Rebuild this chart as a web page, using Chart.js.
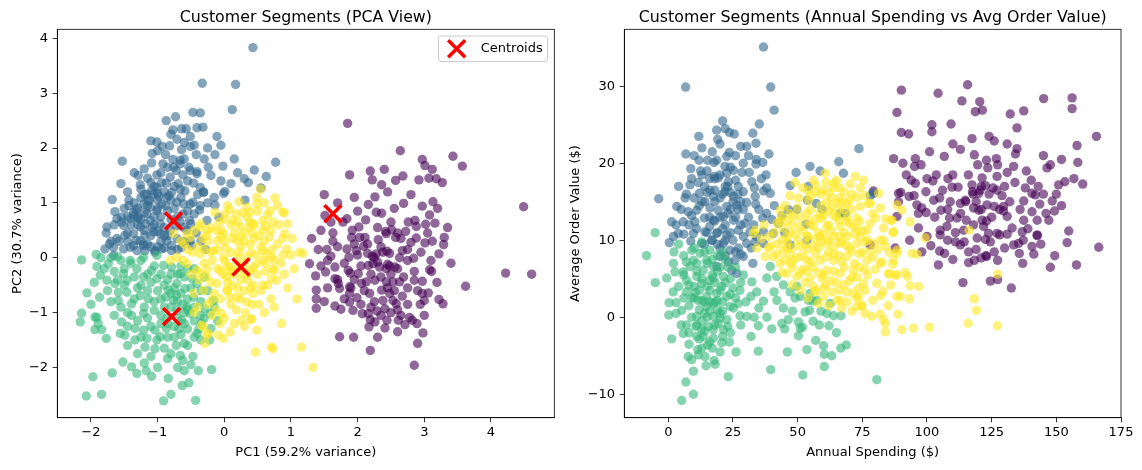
<!DOCTYPE html>
<html><head><meta charset="utf-8">
<script src="https://cdn.jsdelivr.net/npm/chart.js@4.4.1/dist/chart.umd.min.js"></script>
<style>
html,body{margin:0;padding:0;background:#fff;}
#wrap{position:relative;width:1142px;height:470px;overflow:hidden;}
canvas{position:absolute;left:0;top:0;}
</style></head><body>
<div id="wrap"><canvas id="c1" width="1142" height="470"></canvas><canvas id="c2" width="1142" height="470"></canvas></div>
<script>
// ---------- DATA ----------
const pcaXTicks = [-2,-1,0,1,2,3,4];
const pcaYTicks = [-2,-1,0,1,2,3,4];
const spendXTicks = [0,25,50,75,100,125,150,175];
const spendYTicks = [-10,0,10,20,30];

const pcaCentroids = [[-0.76,0.67],[-0.79,-1.07],[0.25,-0.17],[1.63,0.80]];

const pcaPurple = [[1.85,2.45],[2.64,1.95],[2.97,1.79],[3.01,1.68],[3.12,1.61],[3.43,1.85],[3.57,1.67],[1.88,1.51],[2.19,1.58],[2.40,1.61],[2.22,1.42],[2.36,1.33],[2.57,1.41],[2.68,1.49],[2.92,1.42],[3.07,1.45],[3.18,1.44],[3.27,1.37],[1.50,1.15],[2.26,1.11],[2.16,0.97],[2.69,0.99],[2.97,0.94],[3.13,1.02],[4.49,0.93],[1.51,0.77],[1.78,0.65],[1.84,0.71],[2.12,0.69],[2.28,0.83],[2.36,0.81],[2.76,0.65],[2.86,0.68],[2.88,0.57],[3.02,0.61],[3.08,0.78],[3.16,0.63],[1.63,0.45],[1.92,0.50],[2.02,0.56],[2.42,0.48],[2.51,0.51],[2.60,0.45],[2.72,0.48],[1.31,0.35],[3.30,0.37],[1.63,0.30],[1.91,0.37],[2.03,0.37],[2.11,0.37],[2.31,0.33],[2.43,0.44],[2.57,0.37],[2.80,0.28],[2.88,0.36],[3.01,0.27],[3.12,0.30],[3.29,0.24],[3.22,0.07],[1.41,0.15],[1.54,0.15],[1.60,0.03],[1.84,0.16],[1.87,0.01],[1.98,0.13],[2.09,0.21],[2.15,0.08],[2.28,0.07],[2.38,0.10],[2.48,0.08],[2.67,0.13],[2.63,0.00],[2.84,-0.01],[1.28,-0.11],[1.66,-0.17],[1.52,-0.26],[1.37,-0.33],[1.86,-0.23],[1.89,-0.28],[2.01,-0.29],[2.16,-0.14],[2.23,-0.11],[2.33,-0.17],[2.43,-0.20],[2.56,-0.17],[3.08,-0.22],[3.11,-0.25],[1.66,-0.38],[1.71,-0.47],[1.73,-0.56],[1.88,-0.53],[2.06,-0.47],[2.13,-0.44],[2.26,-0.41],[2.43,-0.44],[2.53,-0.44],[2.63,-0.44],[2.69,-0.35],[2.85,-0.41],[2.97,-0.43],[3.19,-0.45],[3.62,-0.52],[4.22,-0.28],[4.61,-0.30],[1.38,-0.59],[1.38,-0.75],[1.38,-0.92],[1.66,-0.88],[1.75,-0.94],[1.88,-0.65],[1.88,-0.81],[1.99,-0.73],[1.93,-0.96],[2.18,-0.65],[2.36,-0.59],[2.38,-0.78],[2.48,-0.65],[2.53,-0.78],[2.58,-0.84],[2.67,-0.70],[2.97,-0.65],[3.06,-0.64],[3.00,-0.78],[2.94,-0.85],[3.22,-0.76],[3.28,-0.84],[2.07,-1.02],[2.16,-1.02],[2.29,-0.97],[2.41,-0.93],[2.19,-1.13],[2.26,-1.17],[2.17,-1.26],[2.41,-1.28],[2.44,-1.14],[2.61,-1.14],[2.65,-1.05],[2.71,-1.22],[2.78,-1.09],[2.82,-1.14],[2.89,-1.20],[2.98,-1.37],[2.90,-1.56],[1.73,-1.44],[1.94,-1.45],[2.19,-1.69],[2.85,-1.96],[2.22,0.03],[2.25,0.00],[2.45,-0.12],[2.48,-0.15],[2.30,-0.08],[2.44,0.12],[1.70,-0.40],[1.90,-0.55],[2.20,-0.30],[2.00,0.05],[2.50,-0.30],[2.35,0.20],[2.10,-0.60],[2.60,-0.20],[1.95,0.25],[2.75,0.15],[3.10,-0.05],[1.55,-0.05],[2.25,-0.80],[2.45,-0.55],[1.45,0.5],[1.6,0.65],[1.7,0.2],[1.8,-0.1],[1.95,-0.4],[2.05,-0.15],[2.15,0.25],[2.3,0.55],[2.5,0.65],[2.65,0.35],[2.75,-0.05],[2.85,-0.25],[2.95,0.1],[3.05,0.45],[2.9,-0.6],[2.75,-0.55],[2.55,-0.6],[2.35,-0.35],[2.2,-0.9],[2.05,-0.85],[1.8,-0.75],[1.55,-0.55],[1.5,-0.8],[2.6,-0.95],[2.75,-0.85],[2.5,-1.0],[2.35,-1.05],[1.45,-0.15],[2.0,0.85],[2.55,0.9],[2.8,1.15],[3.2,0.9],[3.35,0.55],[3.4,-0.1],[1.7,1.0],[2.45,1.2],[1.95,1.1],[2.6,-1.35],[2.3,-1.45],[3.0,-1.05]];

const pcaBlue = [[0.43,3.83],[-0.33,3.18],[0.17,3.16],[0.12,2.70],[-0.47,2.65],[-0.36,2.64],[-0.87,2.50],[-0.73,2.57],[-0.77,2.33],[-0.64,2.35],[-0.57,2.35],[-0.41,2.37],[-0.32,2.38],[-0.51,2.21],[-0.11,2.21],[-0.71,2.16],[-1.10,2.13],[-1.01,2.11],[-0.93,2.03],[-0.82,2.04],[-0.64,1.97],[-0.51,2.03],[-0.42,1.88],[-0.14,1.88],[-1.08,1.90],[-0.88,1.88],[-0.77,1.79],[-0.66,1.78],[-1.53,1.76],[0.77,1.74],[-1.09,1.73],[-0.92,1.71],[-0.02,1.67],[-0.53,1.65],[-0.24,1.65],[-1.20,1.62],[-0.72,1.59],[-0.41,1.57],[0.63,1.48],[-1.29,1.50],[-1.01,1.51],[-0.62,1.51],[0.30,1.44],[0.36,1.37],[-0.87,1.36],[-0.46,1.36],[-1.55,1.35],[-1.26,1.33],[-1.10,1.37],[-0.36,1.28],[0.55,1.27],[-0.66,1.25],[-0.31,1.20],[0.01,1.21],[-0.01,1.17],[-1.00,1.17],[-1.68,1.06],[-1.43,1.05],[0.31,1.05],[-1.25,1.10],[-1.16,1.16],[-0.83,1.13],[-0.47,1.01],[-0.14,0.96],[-1.64,0.84],[-1.43,0.95],[-1.32,0.87],[-0.37,0.87],[-0.08,0.74],[-1.76,0.56],[-1.54,0.74],[-1.36,0.76],[-0.52,0.68],[-1.77,0.45],[-1.79,0.16],[-1.66,0.19],[-1.51,0.16],[-1.41,0.19],[-1.31,0.13],[-1.19,0.13],[-1.21,0.25],[-1.04,0.13],[-1.49,0.41],[-1.36,0.44],[-1.19,0.41],[-1.51,0.59],[-1.41,0.71],[-1.29,0.74],[-1.11,0.68],[-0.96,0.62],[-0.81,0.50],[-0.71,0.35],[-0.79,0.22],[-0.86,0.31],[-0.96,0.44],[-1.06,0.47],[-1.14,1.04],[-1.11,0.92],[-1.06,1.16],[-1.01,1.28],[-1.09,1.22],[-1.21,0.98],[-1.16,0.80],[-1.01,0.86],[-0.94,0.98],[-0.86,1.10],[-0.79,1.19],[-0.71,1.01],[-0.61,0.98],[-0.51,0.98],[-0.36,0.95],[-0.26,0.68],[-0.66,0.65],[-0.56,0.50],[-0.51,0.31],[-0.69,1.35],[-0.59,1.22],[-0.81,1.47],[-0.94,1.37],[-0.51,1.59],[-0.41,1.53],[-0.76,1.65],[-0.66,1.71],[-0.31,1.19],[-1.36,0.83],[-1.54,0.65],[-1.61,0.71],[-1.26,0.56],[-1.26,0.31],[-1.61,0.35],[-0.79,0.13],[-0.94,0.16],[-1.66,0.04],[-1.36,0.22],[-1.21,0.22],[-1.04,0.10],[-0.64,0.19],[-0.49,0.22],[-1.00,0.90],[-0.95,0.75],[-1.05,0.60],[-0.90,0.55],[-1.15,0.95],[-0.85,0.85],[-1.00,1.05],[-0.90,1.20],[-1.20,0.50],[-1.10,0.40],[-0.95,0.30],[-0.85,0.40],[-1.25,0.70],[-1.00,0.20],[-1.15,0.25],[-0.75,0.90],[-0.70,0.75],[-0.65,1.10],[-0.55,0.85],[-1.30,0.90],[-1.40,0.60],[-1.45,0.45],[-0.60,0.55],[-0.45,0.80],[-1.05,1.30],[-1.20,1.15],[-0.80,1.05],[-1.7,0.3],[-1.58,0.3],[-1.45,0.3],[-1.32,0.32],[-1.1,0.2],[-0.9,0.18],[-0.7,0.15],[-0.6,0.3],[-0.42,0.45],[-0.35,0.3],[-0.28,0.15],[-0.9,0.4],[-1.0,0.48],[-1.08,0.55],[-1.18,0.62],[-1.3,0.6],[-1.45,0.75],[-1.35,1.0],[-1.25,1.25],[-1.15,1.45],[-1.35,1.55],[-1.45,1.2],[-0.95,1.55],[-0.85,1.65],[-0.6,1.8],[-0.3,1.8],[-0.2,1.5],[-0.05,1.4],[0.1,1.35],[0.2,1.55],[-0.15,1.1],[-0.25,1.0],[-0.4,1.15],[-0.55,1.4],[-0.75,1.3],[-0.88,0.95],[-0.8,0.7],[-0.72,0.58],[-0.62,0.8],[-0.5,0.62],[-1.05,0.75],[-1.2,0.82],[-1.3,0.72],[-1.12,1.05],[-0.98,1.12],[-1.5,0.9],[-1.65,0.6],[-1.72,0.25],[-0.45,2.05],[-0.25,2.0],[-0.8,2.25],[-0.6,2.1],[-1.0,1.95],[-0.05,2.05],[0.45,1.6],[0.15,1.8]];

const pcaGreen = [[-2.14,-0.04],[-1.92,0.06],[-1.91,-0.16],[-1.74,-0.11],[-1.86,-0.32],[-1.76,-0.41],[-1.64,-0.47],[-1.51,-0.29],[-1.41,-0.05],[-1.46,-0.41],[-1.31,-0.20],[-1.21,-0.35],[-1.09,-0.23],[-1.01,-0.38],[-2.06,-0.64],[-1.87,-0.72],[-1.59,-0.63],[-1.59,-0.78],[-1.46,-0.63],[-1.39,-0.84],[-1.26,-0.69],[-1.14,-0.75],[-1.39,-1.05],[-1.21,-1.02],[-1.05,-0.96],[-2.14,-1.01],[-2.16,-1.17],[-1.91,-1.09],[-1.89,-1.20],[-1.94,-1.31],[-1.84,-1.31],[-1.77,-1.47],[-1.54,-1.17],[-1.56,-1.38],[-1.49,-1.41],[-1.34,-1.29],[-1.34,-1.50],[-1.21,-1.32],[-1.16,-1.47],[-1.04,-1.32],[-1.01,-1.50],[-1.19,-1.63],[-1.04,-1.66],[-0.96,-1.44],[-0.87,-1.29],[-0.86,-1.11],[-0.72,-1.60],[-0.60,-1.56],[-0.66,-1.78],[-0.62,-1.87],[-0.47,-1.80],[-0.85,-1.84],[-1.52,-1.90],[-1.39,-1.99],[-1.31,-2.11],[-1.20,-1.92],[-1.17,-2.06],[-1.09,-2.16],[-1.68,-2.10],[-1.97,-2.17],[-2.07,-2.52],[-1.84,-2.49],[-0.84,-2.20],[-0.60,-2.06],[-0.39,-2.06],[-0.19,-2.04],[-0.63,-2.33],[-0.53,-2.28],[-0.91,-2.61],[-0.80,-2.49],[-0.43,-2.60],[-0.56,-0.90],[-0.71,-0.96],[-0.51,-1.02],[-0.64,-1.14],[-0.76,-0.78],[-0.84,-0.59],[-0.71,-0.47],[-0.59,-0.56],[-0.46,-0.72],[-0.41,-0.47],[-0.66,-0.29],[-0.79,-0.17],[-0.91,-0.14],[-1.01,0.04],[-1.21,0.01],[-0.29,-0.93],[-0.21,-1.02],[-0.34,-1.20],[-0.20,-1.29],[-0.16,-0.78],[-0.36,-1.05],[-0.41,-1.38],[-1.94,-1.08],[-0.90,-0.50],[-0.80,-0.65],[-0.70,-0.80],[-0.60,-1.20],[-0.90,-0.90],[-1.00,-0.60],[-0.60,-0.35],[-0.50,-0.55],[-0.75,-1.25],[-0.65,-1.40],[-1.10,-0.45],[-1.30,-0.55],[-1.50,-0.20],[-1.60,-0.40],[-1.70,0.00],[-1.40,-0.10],[-0.55,-0.95],[-0.45,-0.20],[-0.35,-0.60],[-1.20,-0.90],[-0.85,-1.20],[-0.70,-0.30],[-1.8,-0.2],[-1.65,-0.25],[-1.55,-0.05],[-1.35,-0.35],[-1.25,-0.5],[-1.15,-0.3],[-1.05,-0.15],[-0.95,-0.3],[-0.85,-0.4],[-0.75,-0.55],[-0.65,-0.65],[-0.55,-0.75],[-0.45,-0.9],[-0.35,-0.8],[-0.25,-0.6],[-0.3,-1.1],[-0.45,-1.15],[-0.55,-1.3],[-0.7,-1.1],[-0.8,-0.9],[-0.95,-0.75],[-1.05,-0.8],[-1.15,-1.1],[-1.3,-1.15],[-1.45,-1.0],[-1.55,-0.9],[-1.7,-0.8],[-1.75,-0.6],[-1.95,-0.45],[-2.0,-0.85],[-1.65,-1.05],[-1.45,-1.25],[-1.25,-1.45],[-1.1,-1.25],[-0.95,-1.05],[-0.85,-1.45],[-0.75,-1.45],[-0.55,-1.6],[-0.45,-1.45],[-0.35,-1.5],[-0.9,-1.65],[-0.8,-1.75],[-1.1,-1.8],[-1.3,-1.75],[-1.45,-1.6],[-0.7,-2.0],[-0.5,-1.95],[-1.0,-2.0],[-0.65,-0.15],[-0.55,-0.2],[-0.48,-0.38],[-0.8,-0.3],[-1.25,-0.05],[-1.6,0.02],[-1.85,0.0],[-0.6,-1.0],[-0.68,-1.3],[-0.38,-1.3],[-0.3,-0.35],[-0.15,-0.9],[-0.1,-1.15],[-0.22,-1.5],[-0.95,-1.2],[-1.35,-0.75],[-1.15,-0.6],[-1.5,-0.5],[-0.72,-0.68],[-0.88,-0.72],[-0.62,-0.85]];

const pcaYellow = [[0.54,1.25],[0.76,1.09],[0.49,1.10],[0.90,0.82],[0.69,0.86],[0.34,0.92],[-0.14,0.83],[0.01,0.80],[0.13,0.68],[0.34,0.74],[0.43,0.62],[0.58,0.68],[0.73,0.65],[0.91,0.44],[-0.36,0.62],[-0.26,0.50],[-0.56,0.44],[-0.76,0.44],[0.49,0.98],[0.39,0.83],[0.88,0.83],[0.94,0.16],[1.13,0.10],[0.88,0.35],[0.58,0.50],[0.24,0.56],[-0.36,0.56],[-0.51,0.37],[-0.26,0.41],[-0.01,0.44],[0.19,0.31],[0.39,0.25],[0.58,0.13],[0.71,0.01],[0.58,-0.05],[0.73,-0.20],[0.71,-0.38],[0.58,-0.50],[0.43,-0.65],[0.34,-0.81],[0.19,-0.72],[0.04,-0.59],[-0.11,-0.47],[-0.26,-0.35],[-0.41,-0.23],[-0.56,-0.11],[-0.71,0.01],[-0.81,-0.05],[-0.36,0.07],[-0.16,0.13],[-0.01,0.01],[0.09,-0.17],[-0.06,-0.23],[0.04,-0.35],[0.39,-0.23],[0.49,-0.11],[0.34,0.01],[-0.11,0.31],[1.09,-0.75],[0.86,-1.20],[0.49,-1.32],[0.41,-1.11],[0.26,-1.14],[0.09,-1.35],[-0.01,-1.47],[-0.06,-1.20],[-0.04,-1.02],[-0.19,-0.78],[-0.31,-0.59],[-0.46,-0.65],[-0.34,-1.23],[-0.24,-1.38],[-0.29,-1.56],[0.71,-1.63],[1.16,-1.63],[0.64,0.07],[0.75,-0.04],[0.75,-0.23],[0.79,-0.41],[0.43,-0.50],[0.24,-0.75],[0.09,-0.72],[-0.06,-0.75],[0.40,-1.13],[0.47,-1.72],[0.73,-1.66],[-0.09,-1.41],[-0.26,-1.41],[-0.31,-1.26],[1.18,0.08],[1.33,-2.00],[0.00,0.30],[0.10,0.10],[0.20,0.00],[0.30,-0.10],[0.15,-0.30],[0.05,-0.45],[-0.10,-0.20],[-0.20,0.10],[0.25,0.20],[0.40,0.10],[0.50,-0.30],[0.35,-0.40],[0.20,-0.55],[-0.05,0.50],[0.10,0.60],[0.30,0.45],[0.45,0.60],[-0.20,-0.45],[-0.30,-0.10],[0.00,-0.05],[0.60,0.30],[0.55,-0.60],[0.10,-0.85],[-0.15,-0.65],[0.28,-0.25],[0.12,0.35],[-0.10,0.15],[0.05,-0.60],[0.40,-0.55],[0.62,-0.10],[-0.25,0.30],[0.18,0.80],[0.00,0.70],[-0.40,0.20],[0.70,0.50],[0.05,0.95],[0.22,1.02],[0.6,1.0],[0.8,0.95],[0.65,0.78],[0.5,0.85],[0.28,0.82],[0.08,0.88],[-0.08,0.65],[0.2,0.65],[0.37,0.55],[0.52,0.4],[0.68,0.38],[0.8,0.25],[0.82,0.6],[0.95,0.62],[1.02,0.35],[0.45,0.35],[0.3,0.3],[0.15,0.45],[-0.05,0.38],[-0.2,0.55],[-0.32,0.35],[-0.45,0.5],[-0.6,0.25],[-0.48,0.1],[-0.62,-0.05],[-0.5,-0.3],[-0.38,-0.4],[-0.25,-0.2],[-0.18,-0.05],[0.02,0.18],[0.22,0.1],[0.35,-0.3],[0.48,0.05],[0.62,-0.25],[0.85,-0.1],[0.9,-0.3],[0.65,-0.5],[0.7,-0.75],[0.52,-0.85],[0.3,-0.6],[0.12,-0.5],[-0.02,-0.3],[-0.12,-0.95],[0.0,-1.1],[0.18,-0.95],[0.32,-1.0],[-0.25,-0.85],[-0.4,-0.9],[-0.18,-1.05],[0.6,-1.0],[0.75,-0.9],[0.95,-0.55],[1.05,-0.2],[0.42,-0.85],[0.25,-0.4],[0.1,-0.25],[-0.3,0.15],[0.55,0.2],[0.72,0.15],[0.42,0.45],[0.25,0.38],[-0.12,0.5],[0.38,0.65],[0.62,0.58],[0.05,-0.15],[0.2,-0.2],[0.44,-0.18],[-0.35,-0.28],[-0.55,0.15],[-0.65,0.3],[0.88,0.05],[1.0,0.05],[0.15,-1.2],[-0.45,-1.0],[0.3,-1.25]];

const spendPurple = [[115.7,30.2],[90.1,29.5],[104.3,29.1],[145.1,28.4],[156.1,28.5],[156.1,27.1],[113.5,28.1],[120.4,28.0],[118.7,26.7],[121.4,26.9],[88.4,26.6],[132.2,26.4],[137.4,26.8],[101.9,25.0],[101.9,24.1],[109.3,25.1],[134.8,24.6],[90.1,24.0],[92.9,23.8],[117.4,23.2],[126.0,22.9],[165.5,23.5],[158.0,22.3],[112.9,21.8],[134.8,21.9],[134.2,21.2],[106.7,20.9],[118.3,21.1],[87.1,20.6],[90.7,20.0],[95.5,20.6],[95.2,19.6],[97.7,19.8],[119.6,19.8],[123.0,20.4],[126.8,20.6],[127.3,19.8],[123.5,19.4],[133.5,19.6],[131.0,18.8],[138.4,19.0],[146.4,19.4],[147.7,19.8],[158.3,20.1],[121.3,18.1],[127.1,18.3],[103.6,18.5],[102.3,17.7],[108.1,18.0],[93.9,17.8],[95.5,17.4],[140.3,17.8],[156.8,18.0],[160.2,17.3],[153.3,17.6],[150.9,17.2],[109.7,16.9],[112.0,16.9],[117.4,17.2],[122.6,17.1],[125.5,16.8],[117.6,16.3],[120.0,16.1],[89.9,16.2],[93.1,15.7],[99.6,16.3],[79.3,16.4],[140.6,16.1],[141.9,15.9],[129.0,15.8],[89.0,15.0],[96.1,14.6],[102.6,15.2],[104.9,15.5],[105.4,13.9],[109.0,15.0],[112.9,14.8],[114.8,15.2],[118.0,14.2],[120.0,13.9],[123.2,14.6],[126.0,14.4],[129.6,14.4],[129.6,13.8],[137.4,15.1],[143.6,14.7],[148.4,15.1],[149.3,13.8],[88.4,13.1],[96.7,13.5],[99.7,13.6],[108.7,12.9],[111.6,12.9],[115.2,12.6],[121.3,12.6],[131.0,13.1],[137.4,12.6],[140.6,13.7],[142.6,12.6],[147.1,12.6],[96.7,11.6],[105.1,11.3],[107.7,11.8],[114.2,11.3],[121.9,11.8],[123.8,10.9],[127.1,10.9],[132.9,11.6],[136.8,11.1],[142.6,10.7],[154.8,11.2],[93.3,10.0],[101.5,9.3],[104.9,8.6],[106.8,8.3],[104.4,6.8],[105.1,10.7],[108.0,10.0],[111.0,9.8],[112.9,9.4],[114.4,9.8],[116.1,8.5],[119.4,10.3],[122.6,10.1],[124.5,9.8],[128.1,10.7],[131.0,10.8],[133.5,9.4],[135.4,9.6],[137.2,10.0],[140.6,9.2],[142.6,10.6],[154.2,9.7],[166.4,9.1],[149.4,8.0],[147.7,6.5],[157.8,6.8],[141.3,8.2],[135.7,8.3],[116.1,7.1],[118.3,7.4],[120.9,7.7],[123.0,7.9],[127.3,7.4],[113.9,4.5],[124.5,4.7],[127.3,4.9],[132.6,3.8],[89.0,16.1],[78.1,9.4],[87.7,9.0],[117.8,16.0],[121.0,14.0],[122.8,8.0],[115.0,15.0],[120.5,16.5],[128.0,14.0],[92,18.5],[95,15.8],[98,14.2],[100,18],[103,13],[106,16.5],[108,14],[110,18.5],[111,11],[113,13.5],[116,18.5],[118,12],[119,15],[121,17],[123,12.5],[124,16],[125,13],[127,16.5],[130,17],[132,15],[134,17.5],[136,14],[138,16.8],[139,11.5],[143,17],[145,16],[146,13.5],[150,16],[152,14.5],[144,9.5],[137,7],[130,9],[126,8.5],[119,8.8],[110,7.5],[100,10.5],[98,8.5],[131,22.5],[124,23.5],[110,22.5],[145,21],[152,20.5],[101,21.5]];

const spendBlue = [[36.8,35.1],[6.7,29.9],[39.6,29.9],[40.9,26.9],[21.0,25.5],[35.2,25.1],[18.7,24.3],[23.6,24.0],[25.5,23.8],[11.8,23.5],[19.1,23.1],[32.7,23.9],[33.9,22.6],[28.0,22.2],[30.3,22.2],[6.8,21.2],[23.6,21.4],[22.6,20.9],[38.9,21.2],[11.9,20.4],[15.2,20.4],[18.7,20.4],[17.7,20.1],[36.5,20.1],[33.9,19.9],[8.7,19.3],[12.5,19.0],[21.9,19.6],[22.6,18.7],[25.2,19.1],[28.5,18.8],[31.3,18.8],[37.8,18.5],[17.8,18.3],[19.3,18.1],[49.4,18.8],[54.8,19.6],[58.7,19.0],[65.9,20.2],[67.7,18.7],[73.7,21.9],[4.0,17.0],[8.4,17.2],[11.6,17.5],[16.1,16.5],[23.2,17.6],[27.1,17.0],[32.3,17.6],[33.3,16.8],[47.1,17.1],[54.2,17.0],[-3.7,15.4],[6.5,15.5],[12.0,16.1],[14.2,15.0],[17.4,15.7],[21.9,16.3],[25.2,15.7],[29.0,16.3],[33.6,15.7],[36.8,16.4],[39.4,16.1],[3.3,14.4],[7.7,13.7],[11.0,13.9],[16.1,14.2],[19.3,13.9],[22.6,14.4],[26.5,14.6],[30.3,14.9],[33.8,14.7],[46.4,14.0],[49.7,14.0],[53.8,15.2],[57.2,14.8],[59.5,14.0],[68.4,13.5],[1.3,12.4],[5.8,12.4],[10.3,12.4],[13.9,12.9],[17.4,12.6],[21.3,13.1],[25.2,12.6],[29.7,12.2],[36.5,12.9],[40.0,12.7],[42.6,12.2],[53.3,12.1],[3.9,10.9],[9.7,10.9],[14.2,11.1],[18.7,10.9],[22.6,10.7],[27.1,11.3],[31.6,11.1],[36.8,11.1],[40.6,10.9],[0.4,9.7],[8.7,9.9],[12.9,9.6],[16.8,10.0],[21.3,9.6],[23.9,8.7],[27.1,9.0],[29.0,7.9],[25.8,7.4],[24.5,6.1],[26.5,5.7],[23.2,7.2],[20.0,7.9],[18.7,6.6],[32.7,7.0],[33.6,9.8],[36.8,9.6],[30.3,9.6],[47.1,9.4],[53.6,10.0],[79.4,16.1],[66.4,13.5],[78.1,15.8],[18,15],[20,13],[22,12],[24,14],[19,11],[16,13],[21,16],[23,17],[26,13],[28,12],[17,10],[25,10],[20,9],[15,11],[13,15],[27,16],[29,14],[22,8],[24,11],[18,18],[5,14],[7,16],[9,18],[10,21],[13,22],[15,19],[17,21.5],[20,22.5],[22,24.5],[26,21],[29,20],[31,21],[34,20.5],[36,18],[38,16.8],[35,14],[33,12],[31,13],[28,15],[26,17.8],[24,19.5],[22,17],[20,18.5],[18,16.5],[16,18],[14,17],[12,14.5],[10,15.5],[8,12],[6,10.8],[11,11.5],[14,9.5],[16,11.8],[19,9.5],[21,11.5],[23,13.5],[25,15],[27,14],[29,10.5],[32,9],[34,10.5],[38,13.5],[41,14.5],[44,13.2],[45,11],[28,8.2],[26,8.5],[22,10],[18,12.5],[15,16.2],[13,18.5],[9,13.2],[3,12],[2,10.5],[20,15.5],[24,16.2]];

const spendGreen = [[-5.1,11.0],[-8.4,8.0],[-5.0,4.5],[-0.6,5.1],[2.2,8.5],[2.6,5.9],[1.9,3.3],[0.3,1.9],[0.2,0.3],[3.0,1.9],[5.2,0.9],[1.3,-2.8],[5.8,-2.1],[7.1,-1.0],[7.7,-5.1],[6.8,-8.4],[5.2,-10.8],[9.7,-10.0],[9.7,-7.0],[11.4,-4.2],[11.6,-4.9],[14.2,-5.1],[14.6,-6.3],[17.7,-5.6],[18.1,-6.1],[15.2,-3.6],[13.5,-2.5],[11.0,-2.5],[17.4,-2.7],[20.7,-3.3],[23.6,-3.2],[26.2,-4.5],[23.2,-7.7],[34.8,-4.4],[39.6,-6.8],[52.0,-7.5],[53.6,-4.2],[60.3,-6.4],[60.0,-3.7],[60.3,-4.8],[63.2,-5.0],[66.7,-4.0],[68.8,-3.6],[50.3,-2.4],[51.0,-1.4],[50.3,-0.6],[51.9,-1.3],[58.4,-1.0],[62.1,-1.1],[61.3,0.5],[63.9,0.2],[66.8,0.2],[62.6,1.8],[57.4,2.2],[54.6,0.9],[52.9,0.7],[46.4,-0.3],[43.9,-0.8],[44.5,1.2],[40.9,3.3],[36.8,2.1],[38.1,0.0],[34.8,-1.1],[33.2,0.0],[30.3,0.1],[27.7,0.2],[25.2,1.2],[31.9,2.7],[34.2,3.3],[27.7,3.5],[32.3,4.6],[38.1,5.1],[41.9,5.3],[44.5,4.2],[47.1,3.3],[49.7,4.0],[49.0,2.5],[51.0,2.7],[54.8,3.1],[54.2,2.2],[55.9,2.1],[39.4,6.6],[29.0,5.5],[16.1,3.5],[18.7,3.1],[20.7,4.0],[14.9,2.7],[12.9,4.4],[11.0,5.3],[13.5,6.1],[17.4,5.1],[21.3,5.3],[22.6,2.7],[23.9,1.4],[20.0,0.5],[17.4,0.1],[14.9,1.4],[11.6,2.2],[11.0,0.1],[9.1,2.5],[7.1,3.3],[7.1,4.8],[5.8,5.9],[8.4,6.6],[9.7,7.4],[12.3,8.3],[11.0,7.0],[14.9,7.4],[17.4,6.6],[16.1,8.7],[9.1,8.7],[17.4,1.8],[19.3,-0.8],[21.3,-1.6],[17.4,-1.6],[15.5,-1.2],[20.0,-0.1],[22.6,-0.3],[12.9,-1.6],[10.7,-1.2],[80.6,-8.1],[15,4],[18,2],[20,3.5],[22,4.5],[17,5.5],[14,2],[12,3.5],[19,1],[21,2],[16,0.8],[13,5],[24,3],[26,2.5],[10,4],[8,1.5],[19,6],[23,6.5],[15,7],[11,6],[18,-1],[21,-2.5],[14,-1.8],[12,-2.8],[16,-3.2],[2,7],[4,9.5],[6,8],[4,4],[6,2.5],[3,0.5],[5,-1],[8,-3.5],[9,0],[10,2.5],[12,1],[13,-0.5],[15,0],[16,2],[18,4.5],[20,6.5],[22,7.5],[21,8.5],[24,5],[25,3.8],[27,1.8],[28,4.5],[26,6.5],[19,8],[17,7.5],[14,8.5],[13,9.8],[10,9],[7,7.2],[6,5.5],[8,4.2],[10.5,3.2],[13,2.2],[16,4.8],[19,2.2],[21,0.8],[23,-1.2],[20,-4.5],[17,-4],[13,-4],[9,-5.5],[8,-2],[11,-1],[14,0.5],[24,-2],[28,-1],[30,2],[35,1.2],[40,-1.5],[42,2.2],[45,-1.5],[48,0.8],[56,-0.5],[59,0.8],[65,-2],[57,-3],[46,-4.5],[32,-2.5]];

const spendYellow = [[60.6,18.7],[72.3,18.3],[70.3,17.3],[74.2,16.8],[66.4,16.8],[56.8,16.3],[59.8,16.5],[50.3,15.5],[54.2,15.2],[61.3,15.0],[65.2,14.8],[69.0,14.8],[74.2,14.4],[78.1,14.8],[80.0,12.9],[83.2,11.6],[86.5,12.6],[43.2,13.9],[42.0,12.2],[45.8,10.5],[38.7,9.0],[37.4,7.9],[40.6,7.9],[43.2,7.0],[45.8,5.7],[49.7,5.3],[54.8,5.1],[59.4,5.1],[56.8,3.3],[63.2,3.3],[69.0,3.3],[66.4,2.2],[71.6,3.1],[74.8,1.6],[78.7,0.1],[81.9,0.4],[83.9,-0.8],[83.9,-1.9],[73.5,3.8],[80.6,4.4],[85.1,5.7],[88.4,2.7],[87.1,7.4],[81.9,7.0],[76.8,7.4],[79.3,9.6],[81.9,10.0],[72.9,9.6],[66.4,9.6],[61.3,9.6],[56.1,9.2],[51.0,9.2],[45.8,9.0],[48.4,7.4],[53.6,7.4],[58.7,7.4],[63.9,7.4],[69.0,7.9],[71.6,6.1],[66.4,5.7],[61.3,6.1],[53.6,6.1],[51.0,11.8],[56.1,11.8],[61.3,11.8],[66.4,11.8],[71.6,11.8],[76.8,11.3],[48.4,13.1],[53.6,13.5],[58.7,13.5],[63.9,13.3],[69.0,13.1],[72.9,12.9],[53.6,10.5],[58.7,10.5],[63.9,10.5],[69.0,10.5],[74.2,10.5],[44.5,11.6],[33.6,11.3],[34.2,9.0],[56.1,17.8],[63.9,17.4],[88.4,8.7],[88.4,5.5],[89.7,2.7],[75.5,17.8],[81.3,16.1],[77.4,14.8],[88.4,14.6],[90.3,13.9],[86.1,12.6],[93.5,12.4],[87.1,11.1],[99.3,10.3],[86.8,11.0],[83.2,10.0],[85.5,8.4],[88.4,8.3],[94.2,8.3],[96.1,8.2],[82.6,7.2],[86.8,6.9],[85.5,5.6],[87.7,5.5],[91.6,5.8],[92.5,5.3],[93.5,4.1],[96.8,4.0],[83.0,3.4],[76.1,3.5],[75.5,4.4],[73.5,2.7],[74.8,1.4],[93.3,2.4],[88.8,0.4],[83.2,-0.3],[90.3,-1.6],[94.8,-1.4],[101.0,-1.3],[118.3,2.4],[119.1,0.9],[115.9,-0.8],[127.2,-1.1],[127.3,5.6],[116.3,11.3],[44.5,8.7],[47.1,7.0],[51.0,5.7],[56.1,4.0],[60.0,2.7],[65.2,2.2],[69.0,2.0],[72.9,2.5],[72.9,1.4],[39.4,9.2],[32.9,10.9],[55,12],[58,11],[62,12],[65,13],[68,11],[70,9],[66,8],[62,8.5],[58,9],[54,10.5],[50,10],[47,11],[48,9],[52,8],[56,6.5],[60,5.5],[64,6],[68,6.5],[72,7],[75,8.5],[77,10],[74,12.5],[71,14],[67,15],[63,15.5],[59,14.5],[55,14],[51,13],[46,12.5],[44,10],[57,3.5],[61,4.2],[65,4.5],[70,4.8],[73,5.2],[53,4.5],[48,6.5],[62,10],[66,10.5],[59,12.8],[69,12.5],[76,6.2],[79,7.8],[54,16.5],[64,16.8],[71,16],[61,17.5],[45,14.5],[47,15.8],[49,17.5],[52,16.8],[57,17.2],[62,16.2],[66,15.5],[70,15.2],[73,15.6],[76,15.8],[79,13.5],[82,14.2],[84,12.8],[78,12.2],[75,11.2],[72,10.8],[69,9.3],[67,9.8],[64,9.2],[60,10.8],[57,10.2],[53,9.5],[49,10.8],[46,9.8],[42,9.5],[41,11],[43,12.5],[47,13.5],[50,14.2],[54,12.5],[57,12.8],[60,13.2],[63,14.3],[66,13.8],[70,12.2],[73,11.5],[76,9.8],[78,8.6],[80,6.2],[77,5.5],[74,6.5],[71,5.2],[68,4.2],[66,3.5],[63,4.8],[60,3.8],[58,5.8],[55,7.2],[52,6.2],[50,7.8],[47,8.2],[45,7.5],[42,8.2],[44,5.8],[48,4.2],[51,3.5],[54,2.5],[58,1.8],[62,1.5],[67,1.2],[71,0.8],[76,0.5],[79,2.2],[82,2.8],[85,1.5],[86,4.2],[84,9.2],[81,8.8],[74,8.2],[71,8.6],[67,7.2],[64,8.2],[61,7.8],[57,8.2],[54,8.8],[59,9.8],[63,11.2],[66,12.6],[68,14],[62,13.8],[55,15.8],[59,16],[65,17.8],[68,16.2],[52,11.2],[48,12],[44,13],[39,10.5],[36,10.2],[37,12]];

// ---------- STYLE ----------
const FONT = "'DejaVu Sans', 'Liberation Sans', sans-serif";
const COL = {
  purple: 'rgba(68,1,84,0.6)',
  blue: 'rgba(49,104,142,0.6)',
  green: 'rgba(53,183,121,0.6)',
  yellow: 'rgba(253,231,37,0.6)'
};
const pts = arr => arr.map(p => ({x: p[0], y: p[1]}));
const fmt = v => (v < 0 ? '\u2212' : '') + Math.abs(v);

const framePlugin = {
  id: 'frame',
  afterDraw(chart, args, opts) {
    const ctx = chart.ctx, a = chart.chartArea;
    ctx.save();
    ctx.strokeStyle = '#000';
    ctx.lineWidth = 0.8;
    ctx.strokeRect(a.left, a.top, a.right - a.left, a.bottom - a.top);
    ctx.fillStyle = '#000';
    ctx.font = '15.8px ' + FONT;
    ctx.textAlign = 'center';
    ctx.textBaseline = 'alphabetic';
    ctx.fillText(opts.title, (a.left + a.right) / 2, 21.5);
    if (opts.legend) {
      const lx = 438.5, ly = 36, lw = 109, lh = 25.5, r = 2.5;
      ctx.beginPath();
      ctx.moveTo(lx + r, ly);
      ctx.lineTo(lx + lw - r, ly); ctx.quadraticCurveTo(lx + lw, ly, lx + lw, ly + r);
      ctx.lineTo(lx + lw, ly + lh - r); ctx.quadraticCurveTo(lx + lw, ly + lh, lx + lw - r, ly + lh);
      ctx.lineTo(lx + r, ly + lh); ctx.quadraticCurveTo(lx, ly + lh, lx, ly + lh - r);
      ctx.lineTo(lx, ly + r); ctx.quadraticCurveTo(lx, ly, lx + r, ly);
      ctx.closePath();
      ctx.fillStyle = 'rgba(255,255,255,0.8)';
      ctx.fill();
      ctx.strokeStyle = '#cccccc';
      ctx.lineWidth = 1;
      ctx.stroke();
      const cx = 456.7, cy = 48.7, h = 8.5;
      ctx.strokeStyle = '#ff0000';
      ctx.lineWidth = 3.5;
      ctx.beginPath();
      ctx.moveTo(cx - h, cy - h); ctx.lineTo(cx + h, cy + h);
      ctx.moveTo(cx - h, cy + h); ctx.lineTo(cx + h, cy - h);
      ctx.stroke();
      ctx.fillStyle = '#000';
      ctx.font = '13px ' + FONT;
      ctx.textAlign = 'left';
      ctx.textBaseline = 'middle';
      ctx.fillText('Centroids', 480.7, 48.7);
    }
    ctx.restore();
  }
};

function scatterSet(data, color, order) {
  return {data: pts(data), backgroundColor: color, pointBackgroundColor: color,
    pointBorderWidth: 0, pointRadius: 4.7, pointHoverRadius: 4.7, order: order, clip: false};
}

function axis(cfg) {
  return {
    type: 'linear', position: cfg.pos, min: cfg.min, max: cfg.max,
    afterBuildTicks: s => { s.ticks = cfg.ticks.map(v => ({value: v})); },
    afterFit: s => { if (cfg.pos === 'bottom') s.height = cfg.size; else s.width = cfg.size; },
    ticks: {callback: v => fmt(v), font: {family: FONT, size: 13}, color: '#000',
      padding: cfg.pos === 'bottom' ? 2.4 : 4.6, maxRotation: 0, autoSkip: false},
    grid: {display: true, drawOnChartArea: false, drawTicks: true, tickLength: 4.6, color: '#000', lineWidth: 0.8},
    border: {display: true, color: '#000', width: 0.8},
    title: {display: true, text: cfg.label, font: {family: FONT, size: 13}, color: '#000',
      padding: cfg.pos === 'bottom' ? {top: 0, bottom: cfg.tpad} : {top: cfg.tpad, bottom: 0}}
  };
}

function build(id, c) {
  return new Chart(document.getElementById(id), {
    type: 'scatter',
    data: {datasets: c.sets},
    options: {
      responsive: false, animation: false, events: [],
      layout: {padding: c.pad},
      plugins: {legend: {display: false}, tooltip: {enabled: false}, frame: c.frame},
      scales: {x: axis(c.x), y: axis(c.y)}
    },
    plugins: [framePlugin]
  });
}

build('c1', {
  sets: [
    {data: pts(pcaCentroids), pointStyle: 'crossRot', pointRadius: 12, pointBorderWidth: 3.5,
     pointBorderColor: '#ff0000', borderColor: '#ff0000', order: 0, clip: false},
    scatterSet(pcaYellow, COL.yellow, 1),
    scatterSet(pcaGreen, COL.green, 2),
    scatterSet(pcaBlue, COL.blue, 3),
    scatterSet(pcaPurple, COL.purple, 4)
  ],
  pad: {left: 0, right: 587.7, top: 29.3, bottom: 0},
  x: {pos: 'bottom', min: -2.504, max: 4.95, ticks: pcaXTicks, size: 52.3, label: 'PC1 (59.2% variance)', tpad: 9.9},
  y: {pos: 'left', min: -2.916, max: 4.164, ticks: pcaYTicks, size: 57.3, label: 'PC2 (30.7% variance)', tpad: 9.5},
  frame: {title: 'Customer Segments (PCA View)', legend: true}
});

build('c2', {
  sets: [
    scatterSet(spendYellow, COL.yellow, 1),
    scatterSet(spendGreen, COL.green, 2),
    scatterSet(spendBlue, COL.blue, 3),
    scatterSet(spendPurple, COL.purple, 4)
  ],
  pad: {left: 560, right: 21, top: 29.3, bottom: 0},
  x: {pos: 'bottom', min: -17.0, max: 175.0, ticks: spendXTicks, size: 52.3, label: 'Annual Spending ($)', tpad: 9.9},
  y: {pos: 'left', min: -13.04, max: 37.4, ticks: spendYTicks, size: 64.3, label: 'Average Order Value ($)', tpad: 7.7},
  frame: {title: 'Customer Segments (Annual Spending vs Avg Order Value)', legend: false}
});
</script>
</body></html>
